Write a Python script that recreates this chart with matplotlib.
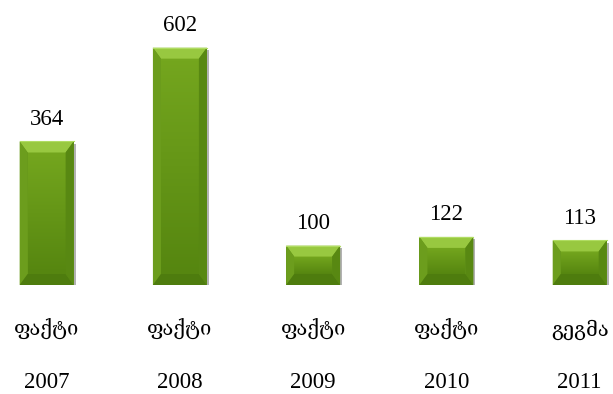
import numpy as np
import matplotlib
matplotlib.use("Agg")
import matplotlib.pyplot as plt
from matplotlib.patches import Polygon
import matplotlib.patheffects as pe

kinds = ["ფაქტი", "ფაქტი", "ფაქტი", "ფაქტი", "გეგმა"]
years = ["2007", "2008", "2009", "2010", "2011"]
values = [364, 602, 100, 122, 113]

serif = ["Liberation Serif", "DejaVu Serif", "DejaVu Sans"]

fig = plt.figure(figsize=(6.13, 3.94), dpi=100)
# x: first bar centre at 47px, 133.3px per slot; y: baseline at 109px from bottom
ax = fig.add_axes([0.0, 109 / 394, 1.0, 276 / 394])
ax.set_xlim(-0.35, 4.25)
ax.set_ylim(0, 700)
for s in ax.spines.values():
    s.set_visible(False)
ax.set_xticks([])
ax.set_yticks([])

x = np.arange(len(values))
bars = ax.bar(x, values, width=0.405, color="#64951a", zorder=2,
              path_effects=[pe.SimplePatchShadow(offset=(1.5, -1.5), shadow_rgbFace="#000000", alpha=0.3),
                            pe.Normal()])

# two-line category labels under each bar
for xi, k, y in zip(x, kinds, years):
    ax.annotate(k, (xi, 0), xycoords=("data", "axes fraction"), xytext=(0, -36.5),
                textcoords="offset points", ha="center", va="baseline",
                family=serif, fontsize=14.5)
    ax.annotate(y, (xi, 0), xycoords=("data", "axes fraction"), xytext=(0, -74),
                textcoords="offset points", ha="center", va="baseline",
                family=serif, fontsize=16.5)

for b, v in zip(bars, values):
    ax.annotate(str(v), (b.get_x() + b.get_width() / 2, v), xytext=(0, 12),
                textcoords="offset points", ha="center", va="baseline",
                family=serif, fontsize=16.5)

# bevel edges, sized in pixels
inv = ax.transData.inverted()
p0 = inv.transform((0, 0))
p1 = inv.transform((8, 11))
bx, by = p1[0] - p0[0], p1[1] - p0[1]
top_c = np.array(matplotlib.colors.to_rgb("#74a61e"))
bot_c = np.array(matplotlib.colors.to_rgb("#568610"))
for b in bars:
    x0, w, h = b.get_x(), b.get_width(), b.get_height()
    x1 = x0 + w
    dy = min(by, h * 0.3)
    dx = min(bx, w * 0.2)
    # face gradient
    grad = np.linspace(0, 1, 64)[:, None]
    img = top_c * (1 - grad[..., None]) + bot_c * grad[..., None]
    ax.imshow(img, extent=(x0 + dx, x1 - dx, dy, h - dy), aspect="auto",
              origin="upper", zorder=3)
    ax.add_patch(Polygon([(x0, h), (x1, h), (x1 - dx, h - dy), (x0 + dx, h - dy)],
                         closed=True, fc="#98c840", ec="none", zorder=4))
    ax.add_patch(Polygon([(x0, h), (x0 + dx, h - dy), (x0 + dx, dy), (x0, 0)],
                         closed=True, fc="#6c9d1d", ec="none", zorder=4))
    ax.add_patch(Polygon([(x1, h), (x1 - dx, h - dy), (x1 - dx, dy), (x1, 0)],
                         closed=True, fc="#588812", ec="none", zorder=4))
    ax.add_patch(Polygon([(x0, 0), (x1, 0), (x1 - dx, dy), (x0 + dx, dy)],
                         closed=True, fc="#4e7c0e", ec="none", zorder=4))
    ax.plot([x0, x1], [h, h], color="#b0dc62", lw=0.8, zorder=5)

ax.set_xlim(-0.35, 4.25)
ax.set_ylim(0, 700)

fig.savefig("out.png", dpi=100)
